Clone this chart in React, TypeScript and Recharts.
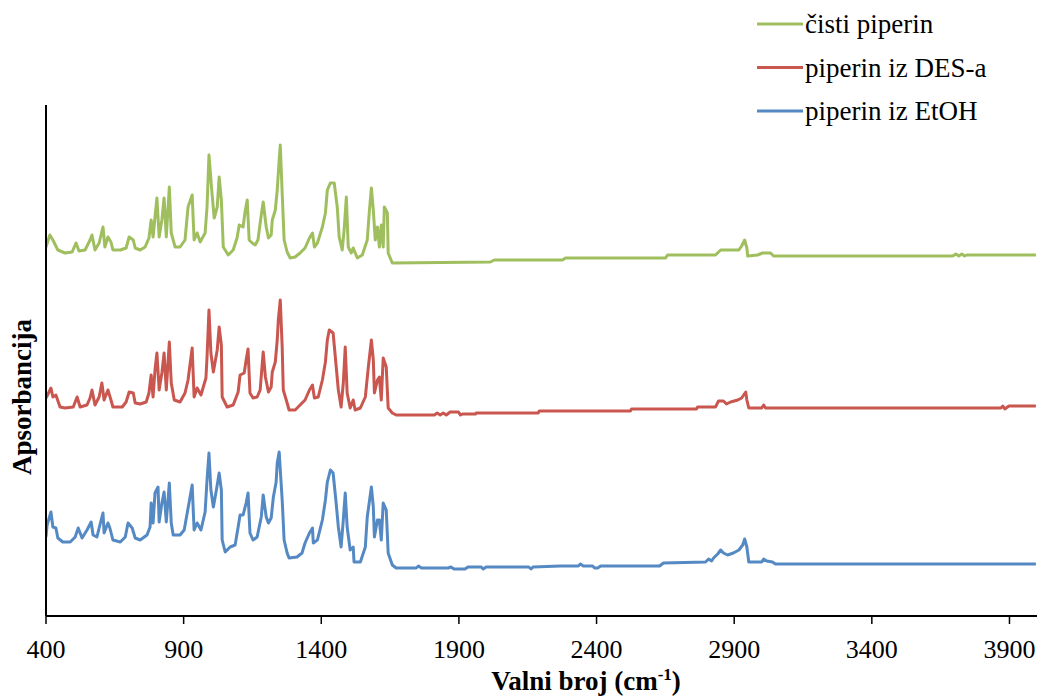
import React from "react";
import { LineChart, Line, XAxis, YAxis } from "recharts";

// wavenumber (cm-1) and offset absorbance
const CISTI_X = [
  400, 414, 425, 443, 469, 495, 509, 520, 542, 560, 567, 578, 593, 607, 614, 625, 636, 643, 670, 691,
  702, 717, 724, 742, 760, 774, 782, 789, 796, 803, 811, 821, 829, 837, 848, 855, 869, 887, 905, 916,
  931, 938, 949, 960, 978, 985, 992, 1003, 1011, 1022, 1029, 1037, 1044, 1062, 1080, 1094, 1102, 1116, 1123, 1131,
  1138, 1149, 1160, 1170, 1182, 1189, 1200, 1208, 1218, 1222, 1233, 1240, 1247, 1251, 1258, 1265, 1276, 1287, 1305, 1323,
  1341, 1357, 1368, 1375, 1386, 1404, 1415, 1422, 1433, 1447, 1458, 1465, 1476, 1483, 1491, 1498, 1509, 1516, 1531, 1549,
  1567, 1575, 1582, 1589, 1596, 1604, 1611, 1618, 1625, 1629, 1640, 1643, 1658, 2014, 2029, 2276, 2287, 2651, 2658, 2832,
  2851, 2917, 2927, 2938, 2946, 2949, 2985, 3003, 3032, 3043, 3694, 3705, 3716, 3727, 3737, 3745, 3996,
];
const CISTI_Y = [
  3.69, 3.81, 3.76, 3.66, 3.63, 3.64, 3.73, 3.65, 3.66, 3.76, 3.81, 3.66, 3.73, 3.89, 3.69, 3.79, 3.74, 3.66, 3.66, 3.68,
  3.79, 3.76, 3.68, 3.66, 3.69, 3.78, 3.96, 3.79, 3.99, 4.18, 3.79, 3.96, 4.18, 3.79, 4.29, 3.83, 3.69, 3.69, 3.76, 4.09,
  4.21, 3.76, 3.83, 3.74, 3.83, 4.09, 4.61, 4.23, 3.98, 4.09, 4.39, 4.16, 3.69, 3.61, 3.66, 3.78, 3.91, 3.89, 4.04, 4.16,
  3.76, 3.73, 3.71, 3.76, 4.01, 4.14, 3.89, 3.78, 3.81, 3.96, 4.06, 4.26, 4.56, 4.71, 4.23, 3.76, 3.64, 3.58, 3.59, 3.63,
  3.68, 3.78, 3.83, 3.69, 3.73, 3.89, 4.03, 4.26, 4.33, 4.33, 4.09, 3.79, 3.66, 3.86, 4.19, 3.69, 3.63, 3.68, 3.58, 3.61,
  3.76, 4.06, 4.28, 4.06, 3.76, 3.89, 3.69, 3.91, 3.69, 4.09, 4.03, 3.63, 3.53, 3.54, 3.56, 3.56, 3.58, 3.58, 3.61, 3.61,
  3.66, 3.66, 3.7, 3.76, 3.68, 3.6, 3.61, 3.63, 3.63, 3.6, 3.6, 3.62, 3.6, 3.62, 3.6, 3.61, 3.61,
];

const DES_X = [
  400, 418, 425, 436, 451, 469, 499, 513, 524, 549, 560, 567, 578, 593, 603, 611, 625, 636, 643, 677,
  691, 702, 717, 724, 742, 764, 774, 782, 789, 796, 803, 811, 821, 829, 837, 848, 855, 866, 887, 905,
  916, 931, 938, 949, 963, 981, 985, 992, 999, 1008, 1022, 1029, 1037, 1040, 1058, 1080, 1098, 1105, 1120, 1127,
  1134, 1141, 1152, 1167, 1178, 1186, 1189, 1197, 1208, 1218, 1222, 1233, 1240, 1244, 1251, 1258, 1262, 1276, 1283, 1305,
  1323, 1341, 1357, 1368, 1375, 1389, 1404, 1415, 1422, 1429, 1443, 1451, 1462, 1472, 1480, 1487, 1494, 1505, 1516, 1523,
  1542, 1560, 1571, 1582, 1589, 1593, 1604, 1611, 1618, 1625, 1636, 1643, 1658, 1672, 1811, 1821, 1832, 1843, 1854, 1868,
  1898, 1906, 1913, 1960, 1963, 2188, 2192, 2523, 2527, 2763, 2767, 2832, 2843, 2861, 2872, 2887, 2913, 2927, 2942, 2946,
  2953, 3000, 3007, 3014, 3869, 3876, 3883, 3898, 3996,
];
const DES_Y = [
  2.18, 2.28, 2.19, 2.21, 2.09, 2.08, 2.09, 2.19, 2.09, 2.11, 2.18, 2.26, 2.11, 2.19, 2.33, 2.16, 2.26, 2.16, 2.09, 2.09,
  2.14, 2.24, 2.23, 2.13, 2.12, 2.14, 2.23, 2.41, 2.19, 2.46, 2.63, 2.26, 2.43, 2.63, 2.26, 2.74, 2.33, 2.16, 2.14, 2.23,
  2.36, 2.68, 2.19, 2.28, 2.21, 2.38, 2.59, 3.06, 2.63, 2.44, 2.66, 2.89, 2.71, 2.19, 2.09, 2.11, 2.24, 2.41, 2.43, 2.56,
  2.67, 2.23, 2.18, 2.19, 2.26, 2.54, 2.64, 2.39, 2.24, 2.29, 2.44, 2.54, 2.76, 2.96, 3.16, 2.69, 2.26, 2.13, 2.06, 2.06,
  2.11, 2.16, 2.26, 2.31, 2.18, 2.19, 2.36, 2.54, 2.76, 2.86, 2.83, 2.59, 2.26, 2.09, 2.33, 2.69, 2.23, 2.08, 2.16, 2.06,
  2.08, 2.19, 2.49, 2.76, 2.56, 2.23, 2.36, 2.39, 2.16, 2.58, 2.49, 2.08, 2.03, 2.01, 2.01, 2.03, 2.01, 2.03, 2.01, 2.04,
  2.04, 2.01, 2.02, 2.02, 2.03, 2.03, 2.05, 2.05, 2.07, 2.07, 2.09, 2.09, 2.15, 2.15, 2.12, 2.14, 2.16, 2.18, 2.24, 2.16,
  2.08, 2.08, 2.11, 2.08, 2.08, 2.1, 2.07, 2.1, 2.1,
];

const ETOH_X = [
  400, 404, 418, 425, 436, 443, 461, 488, 506, 517, 531, 549, 564, 571, 585, 593, 607, 611, 625, 632,
  643, 670, 688, 698, 713, 724, 742, 767, 778, 782, 789, 796, 807, 811, 821, 829, 837, 848, 855, 862,
  887, 902, 913, 931, 938, 949, 963, 978, 985, 992, 999, 1008, 1019, 1029, 1037, 1040, 1051, 1069, 1087, 1098,
  1105, 1116, 1127, 1134, 1141, 1152, 1167, 1182, 1189, 1200, 1208, 1218, 1226, 1236, 1240, 1247, 1258, 1265, 1276, 1283,
  1312, 1330, 1341, 1357, 1368, 1371, 1386, 1404, 1415, 1422, 1433, 1443, 1454, 1462, 1472, 1480, 1487, 1494, 1505, 1516,
  1519, 1542, 1560, 1567, 1582, 1589, 1593, 1604, 1611, 1618, 1625, 1636, 1643, 1658, 1672, 1745, 1753, 1764, 1861, 1871,
  1882, 1922, 1933, 1981, 1988, 1999, 2154, 2162, 2169, 2269, 2334, 2341, 2352, 2386, 2393, 2404, 2415, 2629, 2643, 2796,
  2807, 2818, 2825, 2840, 2851, 2861, 2876, 2897, 2917, 2931, 2938, 2946, 2953, 3000, 3007, 3018, 3039, 3050, 3996,
];
const ETOH_Y = [
  0.79, 0.91, 1.04, 0.89, 0.88, 0.78, 0.74, 0.74, 0.79, 0.88, 0.78, 0.86, 0.94, 0.81, 0.79, 0.88, 1.03, 0.83, 0.93, 0.88,
  0.76, 0.74, 0.79, 0.93, 0.88, 0.78, 0.76, 0.81, 0.89, 1.13, 0.93, 1.23, 1.29, 0.94, 1.13, 1.24, 0.94, 1.33, 0.93, 0.81,
  0.81, 0.86, 1.03, 1.31, 0.86, 0.93, 0.86, 1.04, 1.36, 1.63, 1.26, 1.09, 1.26, 1.43, 1.26, 0.76, 0.64, 0.69, 0.71, 0.89,
  1.01, 1.01, 1.13, 1.23, 0.83, 0.76, 0.79, 0.99, 1.21, 0.99, 0.93, 0.98, 1.19, 1.34, 1.53, 1.64, 1.16, 0.76, 0.63, 0.58,
  0.59, 0.63, 0.73, 0.83, 0.88, 0.73, 0.76, 0.96, 1.16, 1.34, 1.46, 1.43, 1.13, 0.89, 0.69, 0.96, 1.23, 0.89, 0.66, 0.69,
  0.54, 0.54, 0.69, 0.99, 1.29, 1.09, 0.79, 0.96, 0.96, 0.76, 1.13, 1.06, 0.63, 0.51, 0.48, 0.48, 0.5, 0.48, 0.48, 0.49,
  0.47, 0.47, 0.49, 0.49, 0.47, 0.49, 0.49, 0.47, 0.49, 0.5, 0.5, 0.52, 0.5, 0.5, 0.48, 0.48, 0.5, 0.5, 0.53, 0.54,
  0.57, 0.55, 0.58, 0.62, 0.66, 0.63, 0.61, 0.63, 0.66, 0.71, 0.77, 0.69, 0.54, 0.54, 0.57, 0.55, 0.54, 0.52, 0.52,
];

const X_TICKS = [400, 900, 1400, 1900, 2400, 2900, 3400, 3900];

const SERIES = [
  { name: "čisti piperin", color: "#9fbf5f", xs: CISTI_X, ys: CISTI_Y },
  { name: "piperin iz DES-a", color: "#c9574f", xs: DES_X, ys: DES_Y },
  { name: "piperin iz EtOH", color: "#5589c4", xs: ETOH_X, ys: ETOH_Y },
];

const toRows = (xs: number[], ys: number[]) => xs.map((x, i) => ({ x, y: ys[i] }));

const FONT = '"Liberation Serif", "Times New Roman", serif';

export default function App() {
  return (
    <div style={{ position: "absolute", left: 0, top: 0, width: 1037, height: 699, background: "#fff", fontFamily: FONT }}>
      <LineChart width={1037} height={699} margin={{ top: 105, right: 0, bottom: 0, left: 0 }}>
        <XAxis
          type="number"
          dataKey="x"
          domain={[400, 4000]}
          ticks={X_TICKS}
          allowDataOverflow
          height={83}
          axisLine={{ stroke: "#000", strokeWidth: 2 }}
          tickLine={{ stroke: "#000", strokeWidth: 1.5 }}
          tickSize={8}
          tickMargin={16}
          tick={{ fill: "#000", fontSize: 26, fontFamily: FONT }}
          label={{
            content: () => (
              <text x={586} y={690} textAnchor="middle" fontFamily={FONT} fontWeight="bold" fontSize={27} fill="#000">
                Valni broj (cm
                <tspan dy={-10} fontSize={17}>-1</tspan>
                <tspan dy={10}>)</tspan>
              </text>
            ),
          }}
        />
        <YAxis
          type="number"
          domain={[0, 5.11]}
          width={46}
          tick={false}
          tickLine={false}
          axisLine={{ stroke: "#000", strokeWidth: 2 }}
          label={{
            content: () => (
              <text
                x={31}
                y={397}
                transform="rotate(-90 31 397)"
                textAnchor="middle"
                fontFamily={FONT}
                fontWeight="bold"
                fontSize={27}
                fill="#000"
              >
                Apsorbancija
              </text>
            ),
          }}
        />
        {SERIES.map((s) => (
          <Line
            key={s.name}
            name={s.name}
            data={toRows(s.xs, s.ys)}
            dataKey="y"
            type="linear"
            stroke={s.color}
            strokeWidth={3}
            strokeLinejoin="round"
            dot={false}
            activeDot={false}
            isAnimationActive={false}
          />
        ))}
      </LineChart>
      <svg width={290} height={135} style={{ position: "absolute", left: 747, top: 0 }}>
        {SERIES.map((s, i) => (
          <g key={s.name}>
            <line x1={10} x2={56} y1={24 + i * 43.5} y2={24 + i * 43.5} stroke={s.color} strokeWidth={3} />
            <text x={58} y={33 + i * 43.5} fontFamily={FONT} fontSize={27} fill="#000">
              {s.name}
            </text>
          </g>
        ))}
      </svg>
    </div>
  );
}
